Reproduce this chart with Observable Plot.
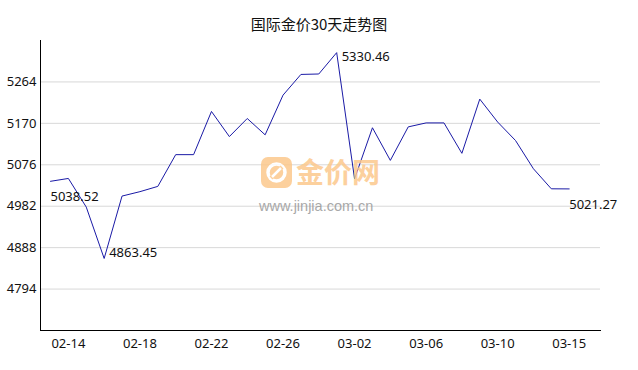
<!DOCTYPE html>
<html>
<head>
<meta charset="utf-8">
<script src="https://cdn.jsdelivr.net/npm/d3@7"></script>
<script src="https://cdn.jsdelivr.net/npm/@observablehq/plot@0.6"></script>
<style>
  html, body { margin: 0; padding: 0; background: #fff; }
  #wrap { position: relative; width: 638px; height: 370px; overflow: hidden; }
  #title { position: absolute; left: 0; top: 13px; width: 638px; text-align: center;
           font-family: "Noto Sans CJK SC", sans-serif; font-size: 15px; color: #111; line-height: 22px; }
  #wm { position: absolute; left: 0; top: 0; width: 638px; height: 370px; pointer-events: none; opacity: 0.85; }
  #wm .icon { position: absolute; left: 261px; top: 157px; width: 31px; height: 31px; border-radius: 7px; background: #fcc88c; }
  #wm .cn { position: absolute; left: 296px; top: 151px; white-space: nowrap; font-family: "Noto Sans CJK SC", sans-serif; font-weight: 700;
            font-size: 28px; line-height: 40px; color: #fcc88c; }
  #wm .url { position: absolute; left: 259px; top: 197px; white-space: nowrap; font-family: "Liberation Sans", Arial, sans-serif;
             font-size: 14.5px; line-height: 18px; color: #9a9a9a; }
  #chart { position: absolute; left: 0; top: 0; }
</style>
</head>
<body>
<div id="wrap">
  <div id="chart"></div>
  <div id="title">国际金价30天走势图</div>
  <div id="wm">
    <div class="icon"><svg width="31" height="31" viewBox="0 0 31 31">
      <circle cx="15.5" cy="15.5" r="8.5" fill="none" stroke="#fff" stroke-width="3.5"/>
      <path d="M10 21 L21 10" stroke="#fcc88c" stroke-width="4"/>
      <path d="M11 20 L20 11" stroke="#fff" stroke-width="2.5"/>
    </svg></div>
    <div class="cn">金价网</div>
    <div class="url">www.jinjia.com.cn</div>
  </div>
</div>
<script>
// ---- data ----
const dates = [
  "02-13","02-14","02-15","02-16","02-17","02-18","02-19","02-20","02-21","02-22",
  "02-23","02-24","02-25","02-26","02-27","02-28","03-01","03-02","03-03","03-04",
  "03-05","03-06","03-07","03-08","03-09","03-10","03-11","03-12","03-13","03-15"
];
const prices = [
  5038.52, 5045, 4980, 4863.45, 5005, 5015, 5027, 5099, 5099, 5197,
  5140, 5181, 5144, 5234, 5281, 5282, 5330.46, 5044, 5160, 5086,
  5162, 5171, 5171, 5102, 5225, 5173, 5131, 5067, 5021.5, 5021.27
];
const xTicks = ["02-14","02-18","02-22","02-26","03-02","03-06","03-10","03-15"];
const yTicks = [4794, 4888, 4982, 5076, 5170, 5264];
const yDomain = [4700, 5358];
// annotated points
const labelBelow = ["02-13", "03-15"];
const labelRightLow = ["02-16"];
const labelRightHigh = ["03-01"];

const data = dates.map((d, i) => ({date: d, price: prices[i]}));
const pick = (keys) => data.filter(d => keys.includes(d.date));
const fmt = d => d.price.toFixed(2);

const numFont = "'Noto Sans', 'Open Sans', sans-serif";

const chart = Plot.plot({
  width: 638,
  height: 370,
  marginLeft: 40,
  marginRight: 38,
  marginTop: 40,
  marginBottom: 40,
  style: {fontFamily: numFont, fontSize: "13px", color: "#111", background: "transparent"},
  x: {type: "point", domain: dates, range: [50, 568.7], padding: 0, round: false, ticks: xTicks, label: null},
  y: {domain: yDomain, ticks: yTicks, label: null},
  marks: [
    Plot.gridY(yTicks, {stroke: "#d8d8d8", strokeOpacity: 1}),
    Plot.axisY(yTicks, {tickSize: 0, tickPadding: 4, fontSize: 13, label: null, tickFormat: d => String(d)}),
    Plot.axisX(xTicks, {tickSize: 0, tickPadding: 8, fontSize: 13, label: null}),
    Plot.frame({anchor: "left", stroke: "#000"}),
    Plot.frame({anchor: "bottom", stroke: "#000"}),
    Plot.lineY(data, {x: "date", y: "price", stroke: "#1a1aa6", strokeWidth: 1}),
    Plot.text(pick(labelBelow), {x: "date", y: "price", text: fmt, textAnchor: "start", dx: 0, dy: 16, fontSize: 13, fill: "#111"}),
    Plot.text(pick(labelRightLow), {x: "date", y: "price", text: fmt, textAnchor: "start", dx: 5, dy: -6, fontSize: 13, fill: "#111"}),
    Plot.text(pick(labelRightHigh), {x: "date", y: "price", text: fmt, textAnchor: "start", dx: 5, dy: 4, fontSize: 13, fill: "#111"})
  ]
});
document.getElementById("chart").appendChild(chart);
</script>
</body>
</html>
